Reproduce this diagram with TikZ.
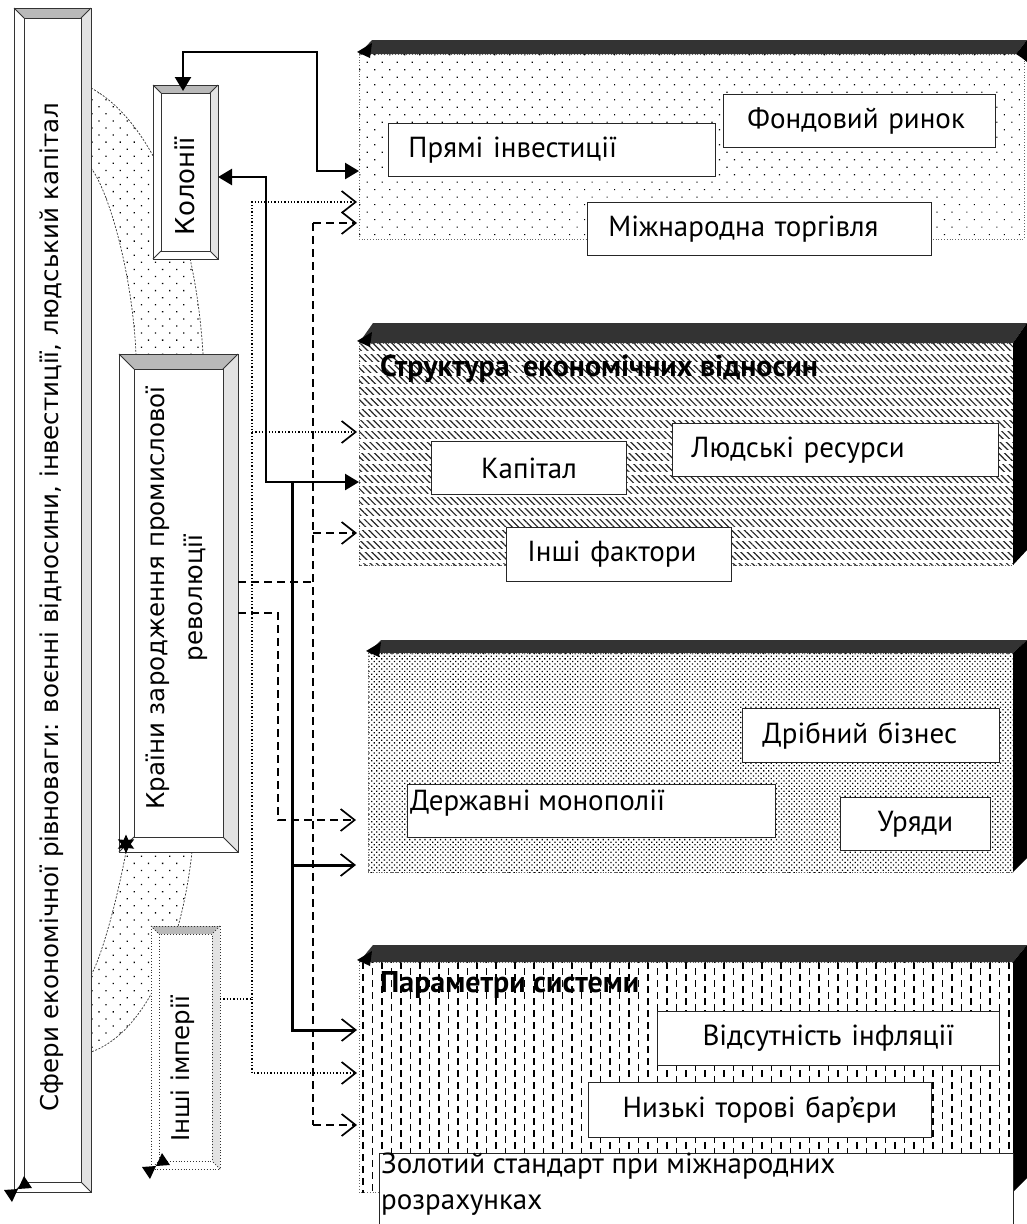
\documentclass[tikz,border=0pt]{standalone}
\usepackage{fontspec}
\newfontfamily\djv{DejaVu Sans}
\newfontfamily\dn{PT Sans}
\usetikzlibrary{arrows.meta,patterns.meta,shapes.geometric}
\newcommand\bevelframe[6]{%
  \fill[white] (#1,#2) rectangle (#3,#4);
  \fill[gray!55] (#1,#2) -- (#3,#2) -- (#3-#5,#2+#5) -- (#1+#5,#2+#5) -- cycle;
  \fill[gray!22] (#3,#2) -- (#3,#4) -- (#3-#5,#4-#5) -- (#3-#5,#2+#5) -- cycle;
  \draw[#6] (#1,#2) rectangle (#3,#4);
  \draw[#6] (#1+#5,#2+#5) rectangle (#3-#5,#4-#5);
  \draw[#6] (#1,#2) -- (#1+#5,#2+#5) (#3,#2) -- (#3-#5,#2+#5)
            (#3,#4) -- (#3-#5,#4-#5) (#1,#4) -- (#1+#5,#4-#5);
}
\newcommand\bowmark[2]{%
  \fill[black] (#1,#2) -- (#1+14,#2-1) -- (#1+6,#2-13) -- cycle;
  \fill[black] (#1,#2) -- (#1-14,#2+1) -- (#1-6,#2+13) -- cycle;
}
\begin{document}
\begin{tikzpicture}[x=1pt,y=-1pt,
  holder/.style={anchor=north west, inner sep=0pt, outer sep=0pt},
  bevline/.style={draw=black!80, line width=0.9pt},
  bevdot/.style={draw=black!80, line width=0.9pt, dotted},
  ltxt/.style={font=\djv\fontsize{24.5}{38}\selectfont, inner sep=0pt, align=center},
  pbox/.style={draw=black!85, line width=0.9pt, fill=white, anchor=north west,
    inner ysep=0pt, font=\dn\fontsize{29}{36}\selectfont},
  ptxt/.style={font=\dn\fontsize{29}{36}\selectfont, inner sep=0pt, anchor=west, align=left},
  ttl/.style={font=\dn\bfseries\fontsize{30}{33}\selectfont, inner sep=0pt, anchor=west},
  pborder/.style={draw=black!60, line width=0.8pt, dotted},
  band/.style={fill=black!80},
  face/.style={fill=black},
  conn/.style={line width=2.5pt},
  conn2/.style={line width=3pt},
  dotc/.style={line width=1.3pt, dash pattern=on 1.3pt off 2pt},
  dshc/.style={line width=1.6pt, dash pattern=on 8pt off 5pt},
  tipF/.tip={Triangle[length=14pt,width=16pt]},
  tipO/.tip={Straight Barb[length=14pt,width=22pt,line width=1.7pt]},
  starmark/.style={star, star points=6, star point ratio=2, fill=black, minimum size=19pt, inner sep=0pt},
  dotfill/.style={pattern={Dots[distance=10pt,angle=45,radius=0.9pt]}, pattern color=black}
]
\useasboundingbox (0,0) rectangle (1027,1224);
\fill[white] (0,0) rectangle (1027,1224);

% ---- ribbons (behind)
\fill[dotfill]
  (91,88) .. controls (150,120) and (195,220) .. (203,354) -- (136,354)
  .. controls (132,270) and (108,190) .. (91,168) -- cycle;
\draw[black!80, line width=0.7pt, dash pattern=on 2pt off 1.5pt]
  (91,88) .. controls (150,120) and (195,220) .. (203,354)
  (91,168) .. controls (108,190) and (132,270) .. (136,354);
\fill[dotfill]
  (126,852) .. controls (115,910) and (100,960) .. (91,975) -- (91,1052)
  .. controls (140,1035) and (180,960) .. (192,852) -- cycle;
\draw[black!80, line width=0.7pt, dash pattern=on 2pt off 1.5pt]
  (126,852) .. controls (115,910) and (100,960) .. (91,975)
  (192,852) .. controls (180,960) and (140,1035) .. (91,1052);

% ---- bevel boxes
\node[holder, minimum width=77pt, minimum height=1184pt] (lb) at (14,8) {};
\bevelframe{14}{8}{91}{1192}{10}{bevline}
\node[ltxt, rotate=90] (lbt) at (52,607) {Сфери економічної рівноваги: воєнні відносини, інвестиції, людський капітал};
\bowmark{18}{1189}

\node[holder, minimum width=65pt, minimum height=174pt] (kol) at (153,85) {};
\bevelframe{153}{85}{218}{259}{8}{bevline}
\node[ltxt, rotate=90, font=\djv\fontsize{26}{38}\selectfont] (kolt) at (185,186) {Колонії};

\node[holder, minimum width=119pt, minimum height=498pt] (kr) at (119,354) {};
\bevelframe{119}{354}{238}{852}{15}{bevline}
\node[ltxt, rotate=90] (krt) at (177,598) {Країни зародження промислової\\революції};
\node[starmark] (m2) at (126,844) {};

\node[holder, minimum width=69pt, minimum height=243pt] (ii) at (151,926) {};
\bevelframe{151}{926}{220}{1169}{8}{bevdot}
\node[ltxt, rotate=90] (iit) at (183,1069) {Інші імперії};
\bowmark{156}{1166}

% ---- panel 1
\node[holder, minimum width=665pt, minimum height=185pt] (p1) at (359,54) {};
\fill[pattern={Dots[distance=10.6pt,angle=45,radius=0.85pt]}, pattern color=black]
  (p1.north west) rectangle (p1.south east);
\draw[pborder] (p1.north west) rectangle (p1.south east);
\fill[band] (359,54) -- (372,40) -- (1027,40) -- (1016,54) -- cycle;
\fill[face] (1016,54) -- (1027,40) -- (1027,62) -- (1022,58) -- cycle;
\fill[black] (357,52) -- (372,43) -- (370,58) -- cycle;
\node[pbox, minimum height=53pt, inner xsep=20pt, text width=287pt, align=left] (pi) at (388,123) {Прямі інвестиції};
\node[pbox, minimum height=53pt, inner xsep=24pt, text width=224pt, align=left] (fr) at (723,94) {Фондовий ринок};
\node[pbox, minimum height=53pt, inner xsep=21pt, text width=302pt, align=left] (mt) at (587,202) {Міжнародна торгівля};

% ---- panel 2
\node[holder, minimum width=654pt, minimum height=222pt] (p2) at (359,343) {};
\begin{scope}
  \clip (p2.north west) rectangle (p2.south east);
  \fill[pattern={Lines[angle=-45,distance=4.5pt,line width=1.2pt]}, pattern color=black!85]
    (p2.north west) rectangle (p2.south east);
  \foreach \yy in {352,363,...,570} \draw[white, line width=3pt] (359,\yy) -- (1013,\yy);
\end{scope}
\draw[pborder] (p2.north west) rectangle (p2.south east);
\fill[band] (359,343) -- (373,323) -- (1027,323) -- (1013,343) -- cycle;
\fill[face] (1013,343) -- (1027,323) -- (1027,550) -- (1013,565) -- cycle;
\fill[black] (357,341) -- (372,332) -- (370,347) -- cycle;
\node[ttl] (t2) at (380,369) {Структура\hspace{0.2em} економічних відносин};
\node[pbox, minimum height=53pt, inner xsep=0pt, text width=195pt, align=center] (kap) at (431,441) {Капітал};
\node[pbox, minimum height=53pt, inner xsep=19pt, text width=288pt, align=left] (lr) at (672,423) {Людські ресурси};
\node[pbox, minimum height=54pt, inner xsep=21pt, text width=183pt, align=left] (inf) at (506,527) {Інші фактори};

% ---- panel 3
\node[holder, minimum width=645pt, minimum height=219pt] (p3) at (368,653) {};
\fill[pattern={Dots[distance=3.6pt,angle=45,radius=0.9pt]}, pattern color=black]
  (p3.north west) rectangle (p3.south east);
\draw[pborder] (p3.north west) rectangle (p3.south east);
\fill[band] (368,653) -- (381,640) -- (1027,640) -- (1013,653) -- cycle;
\fill[face] (1013,653) -- (1027,640) -- (1027,858) -- (1013,872) -- cycle;
\fill[black] (366,651) -- (381,642) -- (379,657) -- cycle;
\node[pbox, minimum height=54pt, inner xsep=20pt, text width=217pt, align=left] (db) at (742,708) {Дрібний бізнес};
\node[pbox, minimum width=368pt, minimum height=53pt] (dm) at (407,784) {};
\node[ptxt] (dmt) at (410,803) {Державні монополії};
\node[pbox, minimum height=53pt, inner xsep=0pt, text width=150pt, align=center] (ur) at (840,797) {Уряди};

% ---- panel 4
\node[holder, minimum width=654pt, minimum height=230pt] (p4) at (359,962) {};
\begin{scope}
  \clip (p4.north west) rectangle (p4.south east);
  \foreach \i [evaluate=\i as \xx using {363+\i*9.5}, evaluate=\i as \ph using {mod(\i,2)*6}] in {0,...,69}
    \draw[black, line width=1.3pt, dash pattern=on 7pt off 5pt, dash phase=\ph pt] (\xx,962) -- (\xx,1195);
\end{scope}
\draw[pborder] (p4.north west) rectangle (p4.south east);
\fill[band] (359,962) -- (373,945) -- (1027,945) -- (1013,962) -- cycle;
\fill[face] (1013,962) -- (1027,945) -- (1027,1178) -- (1013,1192) -- cycle;
\fill[black] (357,960) -- (372,951) -- (370,966) -- cycle;
\node[ttl] (t4) at (380,985) {Параметри системи};
\node[pbox, minimum height=54pt, inner xsep=0pt, text width=342pt, align=center] (vi) at (657,1011) {Відсутність інфляції};
\node[pbox, minimum height=55pt, inner xsep=0pt, text width=343pt, align=center] (nt) at (588,1082) {Низькі торові бар’єри};
\node[pbox, minimum width=634pt, minimum height=90pt] (zol) at (379,1153) {};
\node[ptxt, anchor=north west] (zolt) at (381,1153) {Золотий стандарт при міжнародних\\розрахунках};

% ---- connectors
\coordinate (c1) at (317,52);
\coordinate (c2) at (266,482);
\coordinate (c3) at (292,482);
\coordinate (c4) at (252,202);
\coordinate (c5) at (313,582);
\coordinate (c6) at (278,820);

\draw[conn, tipF-tipF] ([xshift=-2.5pt,yshift=-6pt]kol.north) |- (c1) |- (p1.west |- 0,171);
\draw[conn, tipF-tipF] (kol.east |- 0,177) -| (c2) -- (p2.west |- c2);
\draw[conn2, -tipO] (c3) |- ([xshift=-2pt]p4.west |- 0,1030);
\draw[conn2, -tipO] (292,865) -- ([xshift=-12pt]p3.west |- 0,865);

\draw[dotc, -tipO] (ii.east |- 0,999) -| (c4) -- ([xshift=-2pt]p1.west |- c4);
\draw[dotc, -tipO] (252,432) -- ([xshift=-2pt]p2.west |- 0,432);
\draw[dotc, -tipO] (252,999) |- ([xshift=-2pt]p4.west |- 0,1073);

\draw[dshc] (kr.east |- c5) -- (c5);
\draw[dshc] (313,223) -- (313,1125);
\draw[dshc, -tipO] (313,223) -- ([xshift=-2pt]p1.west |- 0,223);
\draw[dshc, -tipO] (313,533) -- ([xshift=-2pt]p2.west |- 0,533);
\draw[dshc, -tipO] (313,1125) -- ([xshift=-2pt]p4.west |- 0,1125);
\draw[dshc, -tipO] (kr.east |- 0,613) -| (c6) -- ([xshift=-12pt]p3.west |- c6);
\end{tikzpicture}
\end{document}
